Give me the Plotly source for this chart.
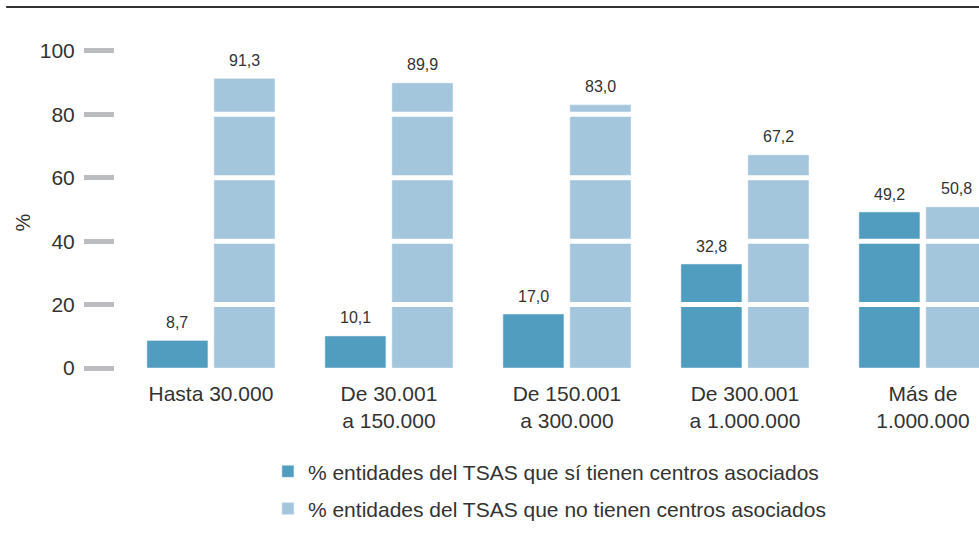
import plotly.graph_objects as go

categories = ["Hasta 30.000", "De 30.001<br>a 150.000", "De 150.001<br>a 300.000",
              "De 300.001<br>a 1.000.000", "Más de<br>1.000.000"]
si_values = [8.7, 10.1, 17.0, 32.8, 49.2]
no_values = [91.3, 89.9, 83.0, 67.2, 50.8]
series_names = ["% entidades del TSAS que sí tienen centros asociados",
                "% entidades del TSAS que no tienen centros asociados"]
y_ticks = [0, 20, 40, 60, 80, 100]

DARK = "#519dbf"
LIGHT = "#a3c6dc"
TXT = "#333333"
FONT = "Liberation Sans"

W, H = 979, 533
ML, MR, MT, MB = 115, 0, 30, 165
X_RANGE = [-0.539, 4.315]
BARGAP = 0.247

def fmt(v):
    return f"{v:.1f}".replace(".", ",")

fig = go.Figure()
fig.add_trace(go.Bar(x=categories, y=si_values, name=series_names[0], marker_color=DARK,
                     legendgroup="a"))
fig.add_trace(go.Bar(x=categories, y=no_values, name=series_names[1], marker_color=LIGHT,
                     legendgroup="b"))

# value labels placed above each bar (offset by half a bar slot derived from axis scale)
px_per_unit = (W - ML - MR) / (X_RANGE[1] - X_RANGE[0])
slot = px_per_unit * (1 - BARGAP) / 2
annotations = []
for vals, sh in ((si_values, -slot / 2), (no_values, slot / 2)):
    for c, v in zip(categories, vals):
        annotations.append(dict(x=c, y=v, xref="x", yref="y", text=fmt(v), showarrow=False,
                                xshift=sh, yshift=18, yanchor="middle",
                                font=dict(size=16, color=TXT, family=FONT)))
annotations.append(dict(text="%", xref="paper", yref="paper", x=-0.106, y=0.432,
                        xanchor="center", yanchor="middle",
                        textangle=-90, showarrow=False, font=dict(size=20, color=TXT)))

shapes = []
for t in y_ticks[1:-1]:
    shapes.append(dict(type="line", xref="paper", x0=0, x1=1, yref="y", y0=t, y1=t,
                       line=dict(color="white", width=5), layer="above"))
shapes.append(dict(type="line", xref="paper", x0=-0.126, x1=1.0, yref="paper", y0=1.068, y1=1.068,
                   line=dict(color="#333333", width=2)))

fig.update_layout(
    width=W, height=H,
    margin=dict(l=ML, r=MR, t=MT, b=MB),
    paper_bgcolor="white", plot_bgcolor="white",
    font=dict(family=FONT, color=TXT),
    barmode="group", bargap=BARGAP, bargroupgap=0.09,
    showlegend=True,
    legend=dict(orientation="v", x=0.177, xanchor="left", y=-0.246, yanchor="top",
                font=dict(size=21, color=TXT), tracegroupgap=7, traceorder="grouped"),
    shapes=shapes,
    annotations=annotations,
)
fig.update_xaxes(range=X_RANGE, showgrid=False, showline=False, ticks="",
                 tickfont=dict(size=21, color=TXT), zeroline=False, ticklabelstandoff=11)
fig.update_yaxes(range=[0, 106.6], tickvals=y_ticks, showgrid=False, zeroline=False,
                 ticks="outside", ticklen=30, tickwidth=5, tickcolor="#bbbcc0",
                 tickfont=dict(size=21, color=TXT), showline=False, ticklabelstandoff=5)

fig.write_html("out.html", config={"displayModeBar": False},
               post_script="document.body.style.margin='0px';document.body.style.overflow='hidden';")
